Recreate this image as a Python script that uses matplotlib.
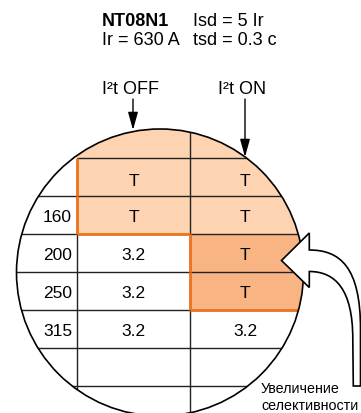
import matplotlib
matplotlib.use("Agg")
import matplotlib.pyplot as plt
from matplotlib.patches import Circle, Rectangle, PathPatch
from matplotlib.path import Path

# ---- data ----
title_left = ["NT08N1", "Ir = 630 A"]
title_right = ["Isd = 5 Ir", "tsd = 0.3 с"]
col_headers = ["I²t OFF", "I²t ON"]
row_labels = ["", "160", "200", "250", "315", "", ""]
off_values = ["T", "T", "3.2", "3.2", "3.2", "", ""]
on_values = ["T", "T", "T", "T", "3.2", "", ""]
note_lines = ["Увеличение", "селективности"]

# ---- style / layout ----
LIGHT = "#FDD3B1"
DARK = "#F8B483"
ORANGE = "#EE7420"
GRID = "#222222"
FONT = ["Liberation Sans", "DejaVu Sans"]

col_edges = [0, 77, 190, 300]
row_top0, row_h = 159, 38
cx, cy, r = 160, 273.5, 143.5

fig = plt.figure(figsize=(3.61, 4.14), dpi=100)
ax = fig.add_axes([0, 0, 1, 1])
ax.set_xlim(0, 361)
ax.set_ylim(414, 0)
ax.axis("off")

circ_clip = Circle((cx, cy), r, transform=ax.transData)

n = len(row_labels)
status = []  # per row: [label, off, on] -> 0 none, 1 light, 2 dark
for i in range(n):
    s_off = 1 if off_values[i] == "T" else 0
    if on_values[i] == "T":
        s_on = 1 if s_off else 2
    else:
        s_on = 0
    status.append([0, s_off, s_on])

# fills
for i in range(n):
    top = row_top0 + i * row_h
    bot = top + row_h
    if i == 0:
        top = 0
    for j in (1, 2):
        st = status[i][j]
        if st:
            w = (col_edges[j + 1] + 60 - col_edges[j]) if j == 2 else (col_edges[j + 1] - col_edges[j])
            rect = Rectangle((col_edges[j], top), w, bot - top,
                             facecolor=LIGHT if st == 1 else DARK, edgecolor="none", zorder=1)
            ax.add_patch(rect)
            rect.set_clip_path(circ_clip)

# grid lines
def line(xs, ys, color=GRID, lw=1.0, z=2):
    l, = ax.plot(xs, ys, color=color, lw=lw, zorder=z, solid_capstyle="butt")
    l.set_clip_path(circ_clip)

for k in range(n + 1):
    y = row_top0 + k * row_h
    line([col_edges[1] if k == 0 else 0, 361], [y, y])
line([col_edges[1]] * 2, [row_top0, 414])
line([col_edges[2]] * 2, [0, 414])

# orange boundary of the "T" region
for i in range(n):
    top = row_top0 + i * row_h
    bot = top + row_h
    for j in range(2):
        if bool(status[i][j]) != bool(status[i][j + 1]):
            line([col_edges[j + 1]] * 2, [top, bot], ORANGE, 2.0, 3)
    if i + 1 < n:
        for j in range(3):
            if bool(status[i][j]) != bool(status[i + 1][j]):
                x0 = col_edges[j]
                x1 = col_edges[j + 1] + (70 if j == 2 else 0)
                line([x0, x1], [bot, bot], ORANGE, 2.0, 3)

ax.add_patch(Circle((cx, cy), r, facecolor="none", edgecolor="black", lw=1.2, zorder=4))

# cell texts
for i in range(n):
    top = row_top0 + i * row_h
    base = top + (27 if i == 0 else 25.5)
    if row_labels[i]:
        ax.text(72, base, row_labels[i], ha="right", va="baseline", fontsize=12.5, family=FONT, zorder=5)
    if off_values[i]:
        ax.text((col_edges[1] + col_edges[2]) / 2, base, off_values[i], ha="center", va="baseline",
                fontsize=12.5, family=FONT, zorder=5)
    if on_values[i]:
        ax.text((col_edges[2] + col_edges[3]) / 2, base, on_values[i], ha="center", va="baseline",
                fontsize=12.5, family=FONT, zorder=5)

# title
ax.text(102, 26, title_left[0], fontsize=13, fontweight="bold", family=FONT, va="baseline")
ax.text(102, 45, title_left[1], fontsize=13, family=FONT, va="baseline")
ax.text(193, 26, title_right[0], fontsize=13, family=FONT, va="baseline")
ax.text(193, 45, title_right[1], fontsize=13, family=FONT, va="baseline")

# column headers + arrows
ax.text(102, 94.3, col_headers[0], fontsize=13, family=FONT, va="baseline")
ax.text(218, 94.3, col_headers[1], fontsize=13, family=FONT, va="baseline")
for x, y0, y1 in [(133, 100, 131), (245, 100, 158)]:
    ax.annotate("", xy=(x, y1), xytext=(x, y0),
                arrowprops=dict(arrowstyle="-|>,head_length=0.9,head_width=0.25", mutation_scale=12,
                                lw=1.0, color="black", shrinkA=0, shrinkB=0), zorder=6)

# big hollow curved arrow
verts = [
    (281.5, 261.5),
    (309.3, 234.0),
    (309.3, 251.0),
    (340.0, 251.0), (360.5, 268.0), (360.5, 330.0),
    (360.5, 387.0),
    (353.3, 387.0),
    (352.8, 340.0),
    (352.8, 290.0), (335.0, 272.5), (309.3, 272.5),
    (309.3, 288.5),
    (281.5, 261.5),
]
codes = [Path.MOVETO, Path.LINETO, Path.LINETO,
         Path.CURVE4, Path.CURVE4, Path.CURVE4,
         Path.LINETO, Path.LINETO, Path.LINETO,
         Path.CURVE4, Path.CURVE4, Path.CURVE4,
         Path.LINETO, Path.CLOSEPOLY]
ax.add_patch(PathPatch(Path(verts, codes), facecolor="white", edgecolor="black", lw=1.2,
                       joinstyle="miter", zorder=7))

ax.text(261, 393, note_lines[0], fontsize=10.3, family=FONT, va="baseline", zorder=8)
ax.text(261, 410, note_lines[1], fontsize=10.3, family=FONT, va="baseline", zorder=8)

fig.savefig("out.png", dpi=100)
